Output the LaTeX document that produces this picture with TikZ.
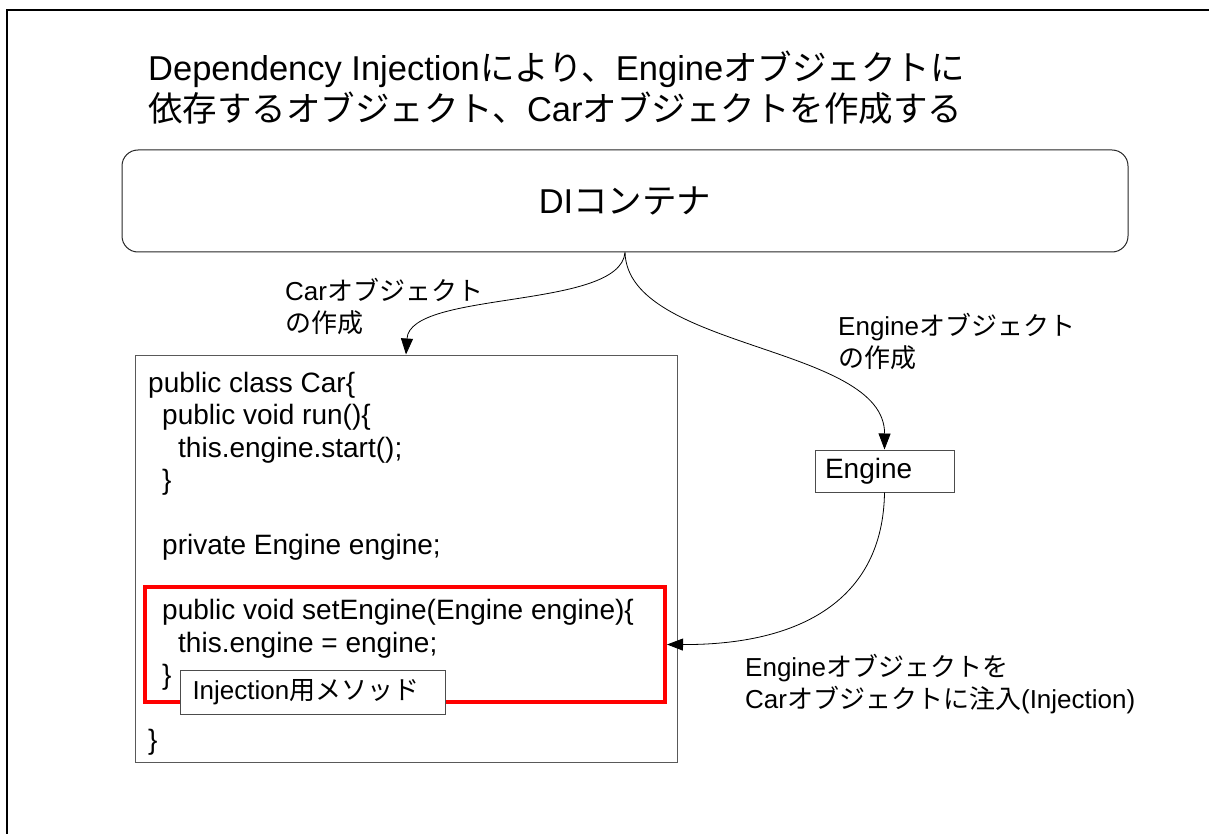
\documentclass[tikz,border=0pt]{standalone}
\usepackage{fontspec}
\setmainfont{Liberation Sans}
\newfontfamily\jpfont{Noto Sans CJK JP}
\newcommand{\ja}[1]{{\jpfont #1}}
\usetikzlibrary{arrows.meta,positioning}

\begin{document}
\begin{tikzpicture}[x=1pt,y=-1pt,
  frame/.style={line width=2pt},
  container/.style={draw=black!85,line width=1pt,rounded corners=16pt,minimum width=1006pt,minimum height=102pt,font=\fontsize{34.5}{40}\selectfont},
  classbox/.style={draw=black!65,line width=1pt,minimum width=542pt,minimum height=407pt,inner sep=0pt},
  objbox/.style={draw=black!70,line width=1pt,inner xsep=10pt,text width=119pt,minimum height=42pt,font=\fontsize{28}{32}\selectfont},
  methodbox/.style={draw=red,line width=4pt,minimum width=520pt,minimum height=115pt,inner sep=0pt},
  tagbox/.style={draw=black!70,line width=1pt,fill=white,inner xsep=12pt,text width=241pt,minimum height=44pt,font=\fontsize{26}{30}\selectfont,anchor=west},
  note/.style={align=left,font=\fontsize{26}{32}\selectfont,inner sep=0pt,anchor=north west},
  code/.style={align=left,font=\fontsize{28}{32.5}\selectfont,inner sep=0pt,anchor=north west},
  arr/.style={-{Triangle[length=16pt,width=12pt]},line width=0.8pt}
]
\useasboundingbox (0,0) rectangle (1209,834);
\draw[frame] (7,834) -- (7,10) -- (1209,10);
\node[align=left,inner sep=0pt,anchor=north west,font=\fontsize{34.5}{41}\selectfont] (title) at (148,51)
  {Dependency Injection\ja{により、}Engine\ja{オブジェクトに}\\\ja{依存するオブジェクト、}Car\ja{オブジェクトを作成する}};
\node[container] (di) at (625,201) {DI\ja{コンテナ}};
\node[classbox] (car) at (406,558.5) {};
\node[code] (src) at (148,372) {public class Car\{\\
\hspace*{14pt}public void run()\{\\
\hspace*{30pt}this.engine.start();\\
\hspace*{14pt}\}\\
\mbox{}\\
\hspace*{14pt}private Engine engine;\\
\mbox{}\\
\hspace*{14pt}public void setEngine(Engine engine)\{\\
\hspace*{30pt}this.engine = engine;\\
\hspace*{14pt}\}\\
\mbox{}\\
\}};
\node[methodbox] (setter) at (405,644.5) {};
\node[tagbox] (tag) at (180,692) {Injection\ja{用メソッド}};
\node[objbox] (engine) at (884.5,471) {Engine};
\node[note] (carnote) at (285,278) {Car\ja{オブジェクト}\\\ja{の作成}};
\node[note] (enginenote) at (838,313) {Engine\ja{オブジェクト}\\\ja{の作成}};
\node[note] (injnote) at (745,654) {Engine\ja{オブジェクトを}\\Car\ja{オブジェクトに注入}(Injection)};
\draw[arr] (di.south) .. controls (620,310) and (410,290) .. (car.north);
\draw[arr] (di.south) .. controls (628,350) and (885,345) .. (engine.north);
\draw[arr] (engine.south) .. controls (883,600) and (800,645) .. (setter.east);
\end{tikzpicture}
\end{document}
